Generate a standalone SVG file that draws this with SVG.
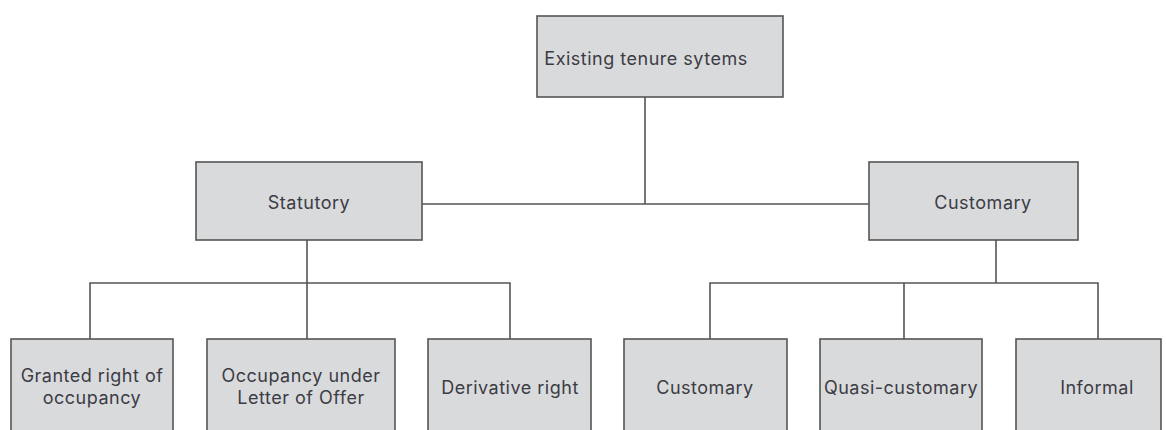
<svg xmlns="http://www.w3.org/2000/svg" width="1166" height="430" viewBox="0 0 1166 430">
<style>
.box{fill:#d9dadc;stroke:#555;stroke-width:1.6}
.t{font-family:Inter,"Open Sans",sans-serif;font-size:18px;letter-spacing:0.5px;fill:#3c3c44;text-anchor:middle}
.c{fill:none;stroke:#555;stroke-width:1.6}
</style>
<rect width="1166" height="430" fill="#fff"/>
<g id="connectors">
<path class="c" d="M645 97V204M422 204H869"/>
<path class="c" d="M307 240V283M90 339V283H510V339M307 283V339"/>
<path class="c" d="M996 240V283M710 339V283H1098V339M904 283V339"/>
</g>
<g id="n-root"><rect class="box" x="537" y="16" width="246" height="81"/><text class="t" x="646" y="65">Existing tenure sytems</text></g>
<g id="n-statutory"><rect class="box" x="196" y="162" width="226" height="78"/><text class="t" x="309" y="209">Statutory</text></g>
<g id="n-customary"><rect class="box" x="869" y="162" width="209" height="78"/><text class="t" x="983" y="209">Customary</text></g>
<g id="n-granted"><rect class="box" x="11" y="339" width="162" height="100"/><text class="t" x="92" y="382">Granted right of</text><text class="t" x="92" y="404">occupancy</text></g>
<g id="n-letter"><rect class="box" x="207" y="339" width="188" height="100"/><text class="t" x="301" y="382">Occupancy under</text><text class="t" x="301" y="404">Letter of Offer</text></g>
<g id="n-derivative"><rect class="box" x="428" y="339" width="163" height="100"/><text class="t" x="510" y="394">Derivative right</text></g>
<g id="n-customary2"><rect class="box" x="624" y="339" width="163" height="100"/><text class="t" x="705" y="394">Customary</text></g>
<g id="n-quasi"><rect class="box" x="820" y="339" width="162" height="100"/><text class="t" x="901" y="394">Quasi-customary</text></g>
<g id="n-informal"><rect class="box" x="1016" y="339" width="145" height="100"/><text class="t" x="1097" y="394">Informal</text></g>
</svg>
